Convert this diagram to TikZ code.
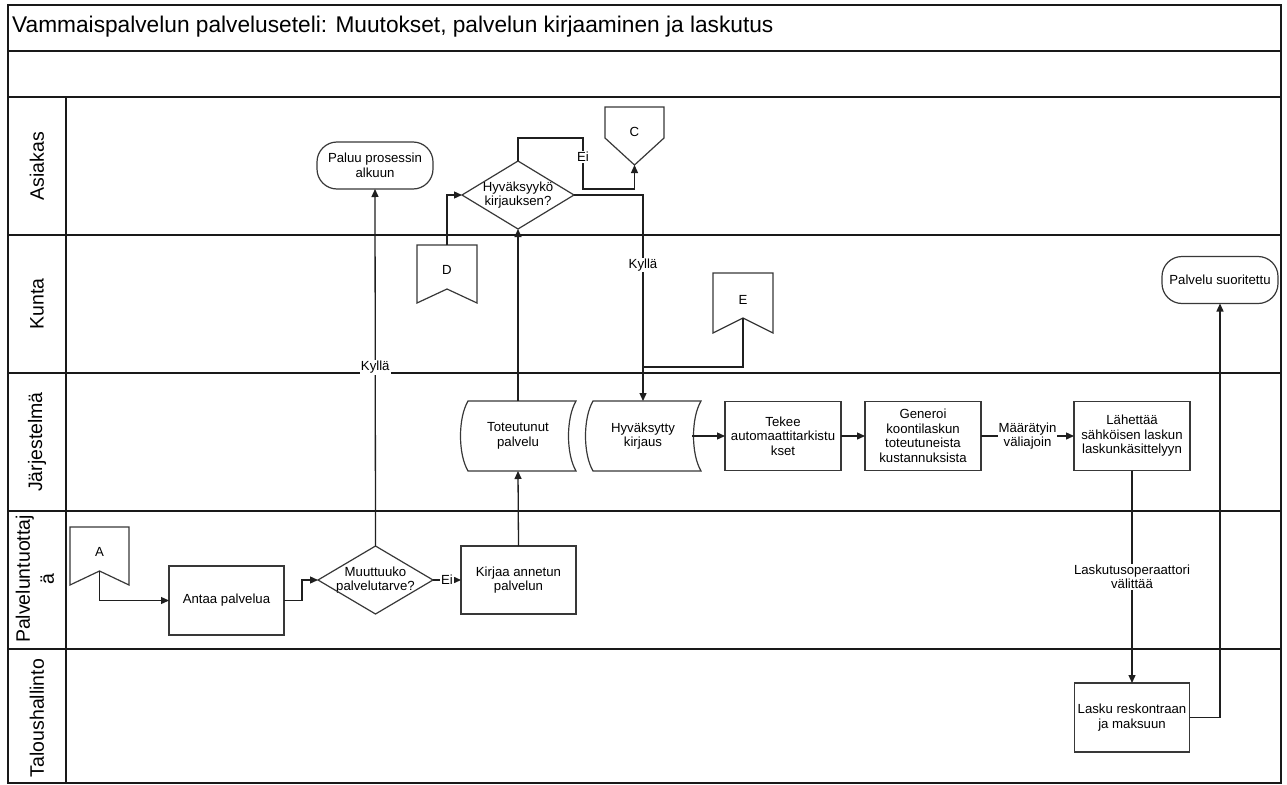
\documentclass[tikz,border=0pt]{standalone}
\usepackage{fontspec}
\setmainfont{Liberation Sans}
\usetikzlibrary{arrows.meta}
\newcommand{\rsNodeFont}{\fontsize{13.2}{14.5}\selectfont}
\newcommand{\rsLaneFont}{\fontsize{19.5}{24}\selectfont}
\begin{document}
\begin{tikzpicture}[x=1pt,y=-1pt,
  frame/.style={line width=1.4pt, draw=black!90},
  shp/.style={line width=1.2pt, draw=black!78},
  txt/.style={font=\rsNodeFont, align=center, outer sep=0pt, inner sep=0pt},
  box/.style={txt, shp, minimum width=116pt, minimum height=69pt},
  stadium/.style={txt, shp, rounded corners=20pt, minimum width=116pt, minimum height=47pt},
  hold/.style={txt, draw=none},
  lanelbl/.style={font=\rsLaneFont, rotate=90, align=center},
  conn/.style={line width=1.3pt, draw=black!88},
  arr/.style={conn, -{Triangle[length=8pt,width=7pt]}},
  lbl/.style={fill=white, inner sep=1pt, font=\rsNodeFont, align=center}
]
\useasboundingbox (0,0) rectangle (1287,784);
\fill[white] (0,0) rectangle (1287,784);

% frame and lanes
\draw[frame] (8,5) rectangle (1281,783);
\draw[frame] (8,51) -- (1281,51);
\draw[frame] (8,97) -- (1281,97);
\draw[frame] (8,235) -- (1281,235);
\draw[frame] (8,373) -- (1281,373);
\draw[frame] (8,511) -- (1281,511);
\draw[frame] (8,649) -- (1281,649);
\draw[frame] (66,97) -- (66,783);

\node[anchor=base west, font=\fontsize{22.7}{26}\selectfont, inner sep=0pt] (title) at (12,33) {Vammaispalvelun palveluseteli: Muutokset, palvelun kirjaaminen ja laskutus};

\node[lanelbl] (l1) at (37,166) {Asiakas};
\node[lanelbl] (l2) at (37,304) {Kunta};
\node[lanelbl] (l3) at (37,442) {Järjestelmä};
\node[lanelbl] (l4) at (35,579) {Palveluntuottaj\\ä};
\node[lanelbl] (l5) at (37,718) {Taloushallinto};

% Asiakas lane
\node[stadium] (paluu) at (375,165.5) {Paluu prosessin\\alkuun};
\node[hold, minimum width=112pt, minimum height=68pt] (hyv) at (518,195) {Hyväksyykö\\kirjauksen?};
\draw[shp] (hyv.north) -- (hyv.east) -- (hyv.south) -- (hyv.west) -- cycle;
\node[hold, minimum width=59pt, minimum height=58pt] (C) at (634.5,136) {\raisebox{8pt}{C}};
\draw[shp] (C.north west) -- (C.north east) -- ([yshift=-31pt]C.north east) -- (C.south) -- ([yshift=-31pt]C.north west) -- cycle;

% Kunta lane
\node[hold, minimum width=60pt, minimum height=58pt] (D) at (447,274) {\raisebox{9pt}{D}};
\draw[shp] (D.north west) -- (D.north east) -- (D.south east) -- ([yshift=14pt]D.south) -- (D.south west) -- cycle;
\node[hold, minimum width=60pt, minimum height=60pt] (E) at (743,303) {\raisebox{6pt}{E}};
\draw[shp] (E.north west) -- (E.north east) -- (E.south east) -- ([yshift=15pt]E.south) -- (E.south west) -- cycle;
\node[stadium] (ps) at (1220,280) {Palvelu suoritettu};

% Jarjestelma lane
\node[hold, minimum width=116pt, minimum height=70pt] (tp) at (518,436) {Toteutunut\\palvelu};
\draw[shp] (468,401) -- (576,401) .. controls (566,418) and (566,454) .. (576,471) -- (468,471) .. controls (458,454) and (458,418) .. (468,401) -- cycle;
\node[hold, minimum width=116pt, minimum height=70pt] (hk) at (643,436) {Hyväksytty\\kirjaus};
\draw[shp] (593,401) -- (701,401) .. controls (691,418) and (691,454) .. (701,471) -- (593,471) .. controls (583,454) and (583,418) .. (593,401) -- cycle;
\node[box] (tk) at (783,436) {Tekee\\automaattitarkistu\\kset};
\node[box] (gen) at (923,436) {Generoi\\koontilaskun\\toteutuneista\\kustannuksista};
\node[box] (lah) at (1132,436) {Lähettää\\sähköisen laskun\\laskunkäsittelyyn};

% Palveluntuottaja lane
\node[hold, minimum width=59pt, minimum height=58pt] (A) at (99.5,556) {\raisebox{8pt}{A}};
\draw[shp] (A.north west) -- (A.north east) -- (A.south east) -- ([yshift=14pt]A.south) -- (A.south west) -- cycle;
\node[box, minimum width=115pt] (antaa) at (226.5,600.5) {Antaa palvelua};
\node[hold, minimum width=115pt, minimum height=68pt] (muut) at (375.5,580) {Muuttuuko\\palvelutarve?};
\draw[shp] (muut.north) -- (muut.east) -- (muut.south) -- (muut.west) -- cycle;
\node[box, minimum width=115pt, minimum height=68pt] (kirjaa) at (518.5,580) {Kirjaa annetun\\palvelun};

% Taloushallinto lane
\node[box, minimum width=115pt] (lasku) at (1132,717.5) {Lasku reskontraan\\ja maksuun};

% connectors
\draw[arr] ([yshift=14pt]A.south) |- (antaa.west);
\draw[arr] (antaa.east) -- ++(18,0) |- (muut.west);
\draw[arr] (muut.east) -- node[lbl]{Ei} (kirjaa.west);
\draw[arr] (kirjaa.north) -- (tp.south);
\draw[arr] (muut.north) -- node[lbl, pos=0.5]{Kyllä} (paluu.south);
\draw[arr] (tp.north) -- (hyv.south);
\draw[arr] (D.north) |- (hyv.west);
\draw[arr] (hyv.north) |- (583,138) -- node[lbl, pos=0.37]{Ei} (583,189) -| (C.south);
\draw[arr] (hyv.east) -| node[lbl, pos=0.67]{Kyllä} (hk.north);
\draw[conn] ([yshift=15pt]E.south) |- (643,367);
\draw[arr] ([xshift=-9pt]hk.east) -- (tk.west);
\draw[arr] (tk.east) -- (gen.west);
\draw[arr] (gen.east) -- node[lbl]{Määrätyin\\väliajoin} (lah.west);
\draw[arr] (lah.south) -- node[lbl]{Laskutusoperaattori\\välittää} (lasku.north);
\draw[arr] (lasku.east) -| (ps.south);
\end{tikzpicture}
\end{document}
